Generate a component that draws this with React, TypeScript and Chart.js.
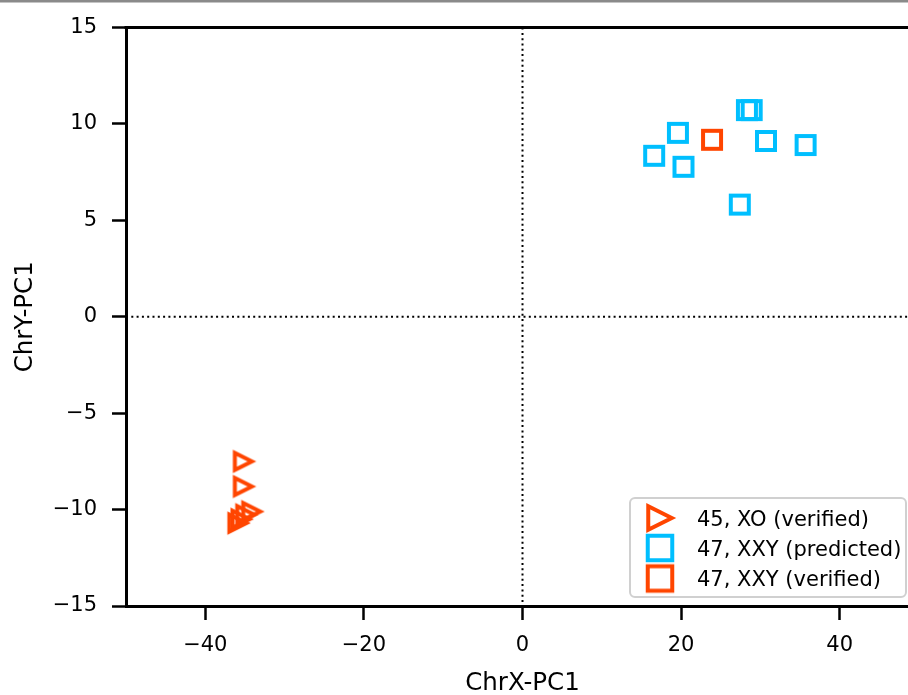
import React, { useEffect, useRef } from "react";
import { Chart, registerables } from "chart.js";

Chart.register(...registerables);

// ---- data ----
const seriesLabels = ["45, XO (verified)", "47, XXY (predicted)", "47, XXY (verified)"];
const xoX = [-35.2, -35.2, -34.15, -34.9, -35.5, -35.9];
const xoY = [-7.5, -8.8, -10.1, -10.26, -10.5, -10.7];
const xxyPredX = [16.6, 19.6, 20.3, 28.3, 28.9, 30.7, 35.7, 27.4];
const xxyPredY = [8.35, 9.54, 7.78, 10.72, 10.72, 9.12, 8.91, 5.82];
const xxyVerX = [23.9];
const xxyVerY = [9.18];
const xTicks = [-40, -20, 0, 20, 40];
const yTicks = [-15, -10, -5, 0, 5, 10, 15];
const xTitle = "ChrX-PC1";
const yTitle = "ChrY-PC1";

const ORANGE = "#FF4500";
const BLUE = "#00BFFF";
const FONT = '"DejaVu Sans", "Noto Sans", sans-serif';

function makeMarker(shape: "tri" | "sq", size: number, color: string, lw: number) {
  let dim = Math.ceil(size + lw * 4);
  if (dim % 2) dim += 1;
  const c = document.createElement("canvas");
  c.width = dim;
  c.height = dim;
  const ctx = c.getContext("2d")!;
  const h = size / 2;
  const cx = dim / 2;
  const cy = dim / 2;
  ctx.beginPath();
  if (shape === "tri") {
    ctx.moveTo(cx + h, cy);
    ctx.lineTo(cx - h, cy - h);
    ctx.lineTo(cx - h, cy + h);
    ctx.closePath();
  } else {
    ctx.rect(cx - h, cy - h, size, size);
  }
  ctx.lineWidth = lw;
  ctx.strokeStyle = color;
  ctx.lineJoin = "miter";
  ctx.miterLimit = 10;
  ctx.stroke();
  return c;
}

const fmt = (v: number) => (v < 0 ? "\u2212" + Math.abs(v) : String(v));
const zip = (xs: number[], ys: number[]) => xs.map((x, i) => ({ x, y: ys[i] }));

export default function App() {
  const ref = useRef<HTMLCanvasElement | null>(null);

  useEffect(() => {
    if (!ref.current) return;
    const triM = makeMarker("tri", 17, ORANGE, 4);
    const sqBlueM = makeMarker("sq", 18, BLUE, 4);
    const sqOrM = makeMarker("sq", 18, ORANGE, 4);
    const legendMarkers = [
      makeMarker("tri", 23.5, ORANGE, 4),
      makeMarker("sq", 24.5, BLUE, 4),
      makeMarker("sq", 24.5, ORANGE, 4),
    ];

    const zeroLines = {
      id: "zeroLines",
      beforeDatasetsDraw(chart: any) {
        const { ctx, chartArea, scales } = chart;
        const x0 = scales.x.getPixelForValue(0);
        const y0 = scales.y.getPixelForValue(0);
        ctx.save();
        ctx.strokeStyle = "#000";
        ctx.lineWidth = 2;
        ctx.setLineDash([2, 3.3]);
        ctx.beginPath();
        ctx.moveTo(x0, chartArea.top);
        ctx.lineTo(x0, chartArea.bottom);
        ctx.moveTo(chartArea.left, y0);
        ctx.lineTo(chartArea.right, y0);
        ctx.stroke();
        ctx.restore();
      },
    };

    const frame = {
      id: "frame",
      afterDatasetsDraw(chart: any) {
        const { ctx, chartArea, width } = chart;
        ctx.save();
        ctx.fillStyle = "#8a8a8a";
        ctx.fillRect(0, 0, width, 2.5);
        ctx.strokeStyle = "#000";
        ctx.lineWidth = 3;
        ctx.beginPath();
        ctx.moveTo(chartArea.left - 1.5, chartArea.top);
        ctx.lineTo(chartArea.right + 1.5, chartArea.top);
        ctx.moveTo(chartArea.right, chartArea.top);
        ctx.lineTo(chartArea.right, chartArea.bottom);
        ctx.stroke();
        ctx.restore();
      },
    };

    const legend = {
      id: "customLegend",
      afterDraw(chart: any) {
        const { ctx, chartArea } = chart;
        ctx.save();
        ctx.font = `21px ${FONT}`;
        const right = chartArea.right - 13;
        const bottom = chartArea.bottom - 9;
        const left = 630;
        const top = bottom - 99;
        const r = 5;
        ctx.beginPath();
        ctx.moveTo(left + r, top);
        ctx.lineTo(right - r, top);
        ctx.arcTo(right, top, right, top + r, r);
        ctx.lineTo(right, bottom - r);
        ctx.arcTo(right, bottom, right - r, bottom, r);
        ctx.lineTo(left + r, bottom);
        ctx.arcTo(left, bottom, left, bottom - r, r);
        ctx.lineTo(left, top + r);
        ctx.arcTo(left, top, left + r, top, r);
        ctx.closePath();
        ctx.fillStyle = "rgba(255,255,255,0.8)";
        ctx.fill();
        ctx.strokeStyle = "#d0d0d0";
        ctx.lineWidth = 2;
        ctx.stroke();
        const rows = [20, 50, 80.5];
        rows.forEach((dy, i) => {
          const cy = top + dy;
          const m = legendMarkers[i];
          ctx.drawImage(m, left + 30 - m.width / 2, cy - m.height / 2);
          ctx.fillStyle = "#000";
          ctx.textAlign = "left";
          ctx.textBaseline = "alphabetic";
          ctx.fillText(seriesLabels[i], left + 67, cy + 7.5);
        });
        ctx.restore();
      },
    };

    const chart = new Chart(ref.current, {
      type: "scatter",
      data: {
        datasets: [
          { label: seriesLabels[0], data: zip(xoX, xoY), pointStyle: triM as any, pointRadius: 10, order: 3 },
          { label: seriesLabels[1], data: zip(xxyPredX, xxyPredY), pointStyle: sqBlueM as any, pointRadius: 10, order: 2 },
          { label: seriesLabels[2], data: zip(xxyVerX, xxyVerY), pointStyle: sqOrM as any, pointRadius: 10, order: 1 },
        ],
      },
      options: {
        animation: false,
        responsive: false,
        devicePixelRatio: 1,
        layout: { padding: { top: 27, right: 11, left: 0, bottom: 0 } },
        plugins: { legend: { display: false }, tooltip: { enabled: false } },
        scales: {
          x: {
            type: "linear",
            min: -50,
            max: 50,
            afterBuildTicks: (s: any) => {
              s.ticks = xTicks.map((v) => ({ value: v }));
            },
            afterFit: (s: any) => {
              s.height = 89;
            },
            grid: { drawOnChartArea: false, color: "rgba(0,0,0,0)", tickColor: "#000", tickLength: 14, tickWidth: 2.5 },
            border: { display: true, color: "#000", width: 3 },
            ticks: { color: "#000", font: { family: FONT, size: 21 }, padding: 13, maxRotation: 0, callback: (v: any) => fmt(Number(v)) },
            title: { display: true, text: xTitle, color: "#000", font: { family: FONT, size: 24.5, lineHeight: 0.9 }, padding: { top: 0, bottom: 0 } },
          },
          y: {
            type: "linear",
            min: -15,
            max: 15,
            afterBuildTicks: (s: any) => {
              s.ticks = yTicks.map((v) => ({ value: v }));
            },
            afterFit: (s: any) => {
              s.width = 126;
            },
            grid: { drawOnChartArea: false, color: "rgba(0,0,0,0)", tickColor: "#000", tickLength: 14, tickWidth: 2.5 },
            border: { display: true, color: "#000", width: 3 },
            ticks: { color: "#000", font: { family: FONT, size: 21 }, padding: 15, callback: (v: any) => fmt(Number(v)) },
            title: { display: true, text: yTitle, color: "#000", font: { family: FONT, size: 24.5, lineHeight: 1 }, padding: { top: 13, bottom: 0 } },
          },
        },
      },
      plugins: [zeroLines, frame, legend],
    });
    return () => chart.destroy();
  }, []);

  return (
    <div style={{ position: "fixed", left: 0, top: 0, width: 908, height: 695, overflow: "hidden", background: "#fff" }}>
      <canvas ref={ref} width={930} height={695} style={{ width: 930, height: 695, display: "block" }} />
    </div>
  );
}
